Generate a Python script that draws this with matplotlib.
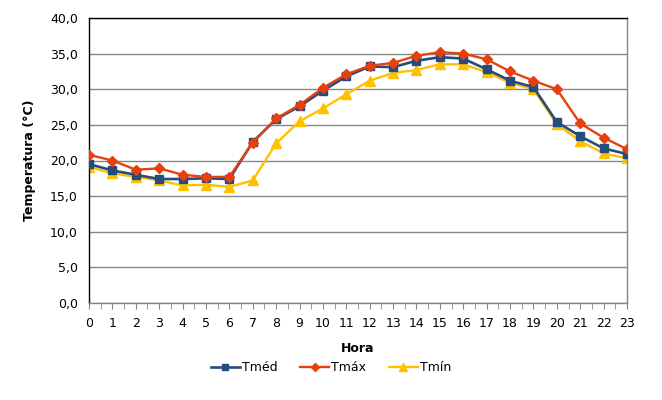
import matplotlib.pyplot as plt
from matplotlib.ticker import MultipleLocator, FuncFormatter

horas = list(range(24))
t_med = [19.5, 18.6, 18.0, 17.4, 17.4, 17.5, 17.4, 22.6, 25.8, 27.6, 29.8, 31.8,
         33.2, 33.1, 34.0, 34.5, 34.3, 32.8, 31.2, 30.3, 25.4, 23.4, 21.7, 20.9]
t_max = [20.8, 20.0, 18.7, 18.9, 18.0, 17.7, 17.7, 22.5, 25.9, 27.8, 30.2, 32.1,
         33.3, 33.7, 34.7, 35.2, 35.0, 34.2, 32.5, 31.2, 30.0, 25.2, 23.2, 21.6]
t_min = [19.1, 18.2, 17.7, 17.2, 16.5, 16.6, 16.3, 17.2, 22.4, 25.5, 27.3, 29.3,
         31.2, 32.3, 32.7, 33.5, 33.5, 32.4, 30.9, 30.0, 25.1, 22.7, 21.0, 20.3]

fig = plt.figure(figsize=(6.62, 4.0), dpi=100)
ax = fig.add_axes([89 / 662, 97 / 400, 538 / 662, 285 / 400])

ax.plot(horas, t_med, color='#244C7E', lw=1.9, marker='s', ms=5.8, label='Tméd', zorder=3)
ax.plot(horas, t_max, color='#E8400C', lw=1.7, marker='D', ms=5.5, label='Tmáx', zorder=4)
ax.plot(horas, t_min, color='#FFC000', lw=1.7, marker='^', ms=6.5, label='Tmín', zorder=2)

ax.set_xlim(0, 23)
ax.set_ylim(0, 40)
ax.set_xticks(horas)
ax.xaxis.set_minor_locator(MultipleLocator(0.5))
ax.yaxis.set_major_locator(MultipleLocator(5))
ax.yaxis.set_major_formatter(FuncFormatter(lambda v, p: f"{v:.1f}".replace('.', ',')))

ax.grid(axis='y', color='#868686', lw=1)
ax.set_axisbelow(True)
for side in ['left', 'top']:
    ax.spines[side].set_color('black')
for side in ['right', 'bottom']:
    ax.spines[side].set_color('#868686')
for s in ax.spines.values():
    s.set_linewidth(1)

ax.tick_params(axis='y', length=0, pad=8, labelsize=9)
ax.tick_params(axis='x', which='both', length=4, color='#868686', labelsize=9, pad=6)

ax.set_xlabel('Hora', fontsize=9, fontweight='bold', labelpad=9)
ax.set_ylabel('Temperatura (°C)', fontsize=9, fontweight='bold', labelpad=10)

leg = ax.legend(loc='upper center', bbox_to_anchor=(0.45, -0.165), ncol=3, frameon=False,
                fontsize=9, handlelength=2.3, handletextpad=0.2, columnspacing=1.8,
                markerscale=0.8)

fig.savefig('out.png', dpi=100)
